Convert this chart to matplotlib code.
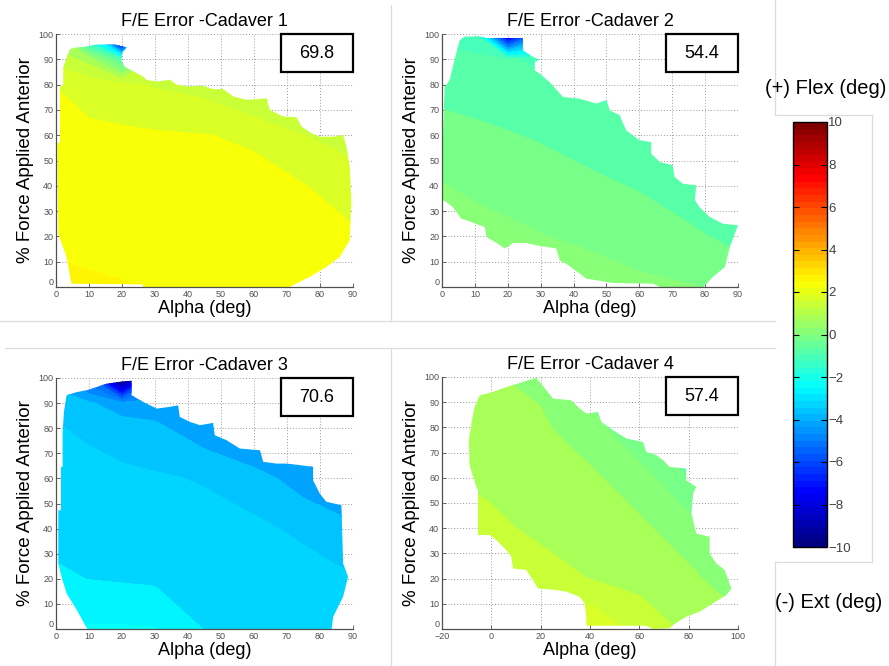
import numpy as np
import matplotlib
matplotlib.use("Agg")
import matplotlib.pyplot as plt
from matplotlib import patches, colors, cm
from matplotlib.lines import Line2D

plt.rcParams['font.family'] = ['Liberation Sans', 'DejaVu Sans']

# ---- data ----
force_rows = [0, 20, 40, 60, 80, 90, 100]

# cadaver 1
alpha_c1 = [0, 10, 20, 30, 45, 60, 75, 90]
fe_c1 = [
    [2.60, 2.55, 2.52, 2.49, 2.42, 2.38, 2.33, 2.28],
    [2.42, 2.40, 2.38, 2.32, 2.28, 2.24, 2.18, 2.08],
    [2.28, 2.25, 2.23, 2.20, 2.15, 2.10, 2.02, 1.73],
    [2.14, 2.11, 2.09, 2.06, 2.01, 1.95, 1.50, 1.30],
    [1.99, 1.78, 1.63, 1.45, 1.30, 0.70, 1.00, 0.90],
    [1.33, 0.80, -1.00, 1.00, 1.00, 0.30, 0.50, 0.60],
    [0.50, -3.0, -12.0, 0.50, 0.50, 0.00, 0.00, 0.30],
]
edge_a1 = [4.7, 3.2, 0.7, 0.4, 1.2, 1.2, 2.2, 2.2, 3.2, 4.2, 5.4, 9.0, 12.3, 17.9, 21.4,
           19.9, 19.9, 20.9, 23.4, 26.4, 27.4, 30.5, 34.5, 36.5, 39.6, 44.6, 47.6, 50.7,
           53.7, 57.7, 60.7, 63.8, 64.8, 68.8, 72.9, 74.4, 77.4, 79.9, 84.0, 87.0, 88.0,
           89.0, 89.5, 89.0, 86.0, 81.9, 76.9, 71.8, 70.8, 26.4, 26.4]
edge_f1 = [1.3, 11.9, 21.0, 57.0, 57.0, 79.0, 80.0, 87.0, 90.5, 94.0, 94.5, 95.0, 95.8, 95.8, 94.7,
           92.5, 89.0, 87.0, 85.2, 83.2, 81.9, 81.2, 81.9, 80.0, 79.3, 79.5, 78.2, 78.2,
           75.3, 74.0, 74.2, 74.6, 70.0, 67.4, 67.1, 63.4, 60.8, 59.4, 59.4, 60.1, 55.5,
           47.6, 34.3, 18.5, 11.9, 7.9, 4.0, 0.7, 0.0, 0.0, 1.0]

# cadaver 2
alpha_c2 = [0, 10, 20, 30, 45, 60, 75, 90]
fe_c2 = [
    [0.40, 0.40, 0.40, 0.35, 0.30, 0.10, 0.03, -0.10],
    [0.21, 0.17, 0.11, 0.02, -0.12, -0.23, -0.39, -0.67],
    [0.02, -0.08, -0.18, -0.26, -0.40, -0.54, -0.80, -1.10],
    [-0.31, -0.40, -0.47, -0.55, -0.71, -0.96, -1.20, -1.50],
    [-0.68, -0.71, -0.79, -0.89, -1.05, -1.40, -1.60, -1.90],
    [-0.88, -0.86, -0.95, -1.10, -1.30, -1.60, -1.80, -2.00],
    [-1.10, -1.50, -9.00, -5.00, -1.50, -1.80, -2.00, -2.20],
]
edge_a2 = [0.3, 0.3, 0.3, 0.8, 2.3, 3.9, 5.4, 6.9, 11.5, 13.5, 24.6, 24.6, 27.7, 29.7, 28.2,
           28.2, 29.7, 32.7, 36.8, 41.9, 46.9, 50.0, 51.0, 54.0, 56.0, 60.1, 63.6, 63.6,
           66.2, 70.2, 70.7, 73.3, 77.3, 76.9, 78.3, 81.4, 85.4, 90.0, 87.5, 86.0, 82.4,
           80.4, 79.4, 66.2, 64.2, 52.0, 43.9, 41.9, 37.8, 35.8, 34.8, 28.7, 25.6, 21.6,
           19.1, 17.0, 13.5, 13.0, 7.4, 5.9, 3.3, 1.3]
edge_f2 = [34.3, 42.0, 60.6, 79.0, 81.7, 90.2, 97.5, 99.0, 99.0, 98.4, 98.4, 93.5, 90.9, 89.9, 88.9,
           85.6, 84.3, 81.0, 75.1, 74.4, 72.5, 73.8, 69.8, 67.9, 61.9, 58.0, 57.3, 52.7,
           49.4, 48.1, 43.5, 40.8, 40.2, 34.3, 31.6, 27.7, 25.0, 24.4, 15.8, 7.9, 4.0,
           1.3, 0.0, 0.0, 1.3, 1.6, 3.3, 5.3, 9.2, 10.5, 15.2, 16.5, 17.4, 17.4,
           15.2, 17.1, 19.8, 23.7, 26.4, 27.0, 31.6, 33.6]

# cadaver 3
alpha_c3 = [0, 10, 20, 30, 45, 60, 75, 90]
fe_c3 = [
    [-2.60, -2.45, -2.45, -2.48, -3.02, -3.08, -3.12, -3.15],
    [-2.93, -3.01, -3.05, -3.09, -3.14, -3.19, -3.30, -3.47],
    [-3.14, -3.18, -3.22, -3.26, -3.33, -3.40, -3.60, -3.88],
    [-3.31, -3.35, -3.39, -3.44, -3.54, -3.78, -4.26, -4.70],
    [-3.47, -3.58, -3.75, -3.88, -4.33, -4.80, -5.00, -5.30],
    [-3.77, -3.93, -4.30, -4.30, -4.80, -5.10, -5.30, -5.60],
    [-4.20, -5.50, -11.0, -5.50, -5.20, -5.40, -5.60, -5.90],
]
edge_a3 = [9.5, 6.3, 3.2, 1.7, 0.7, 0.7, 1.5, 1.5, 2.0, 2.0, 2.4, 3.2, 6.3, 9.3, 12.3, 15.3,
           18.9, 22.9, 22.9, 26.4, 30.5, 34.5, 37.0, 37.5, 40.6, 43.6, 47.6, 48.1, 51.7,
           55.7, 61.8, 62.8, 66.8, 69.8, 73.9, 77.9, 77.9, 79.9, 81.9, 86.5, 87.0, 88.5,
           87.0, 84.0, 83.5]
edge_f3 = [0.0, 7.6, 14.2, 20.8, 26.1, 47.3, 47.3, 64.6, 64.6, 77.9, 86.5, 93.1, 94.4, 95.1, 96.4, 97.7,
           98.4, 98.9, 93.1, 90.5, 87.8, 88.5, 89.1, 84.5, 82.5, 81.2, 82.1, 77.2, 75.2,
           71.9, 71.2, 66.6, 65.9, 65.9, 65.3, 64.6, 59.3, 54.0, 50.7, 49.3, 26.1, 20.8,
           12.9, 4.9, 0.0]

# cadaver 4
alpha_c4 = [-20, 0, 20, 40, 60, 80, 100]
fe_c4 = [
    [1.30, 1.45, 1.45, 2.00, 1.30, 0.90, 0.65],
    [1.21, 1.27, 1.16, 0.99, 0.85, 0.61, 0.22],
    [1.12, 1.08, 0.92, 0.79, 0.60, 0.22, -0.60],
    [1.03, 0.91, 0.75, 0.59, 0.23, -0.48, -1.10],
    [0.90, 0.75, 0.58, 0.21, -0.49, -1.20, -1.60],
    [0.82, 0.67, 0.48, -0.05, -0.80, -1.50, -1.80],
    [0.74, 0.58, 0.20, -0.30, -1.10, -1.80, -2.00],
]
edge_a4 = [38.5, 37.8, 35.8, 30.4, 26.4, 18.9, 16.9, 14.2, 8.8, 8.1, 6.1, 2.0, -0.7, -5.4,
           -5.4, -6.1, -8.8, -9.1, -8.1, -6.8, -4.7, 0.7, 6.1, 12.8, 18.2, 19.6, 22.3,
           25.0, 32.4, 35.8, 38.5, 43.2, 44.6, 49.3, 54.7, 61.5, 62.8, 66.9, 69.6, 72.3,
           79.0, 79.0, 83.1, 81.8, 81.1, 83.1, 88.5, 88.5, 91.2, 94.6, 97.3, 95.3, 89.9,
           84.5, 79.1, 73.6, 72.3, 65.5, 62.8, 38.5]
edge_f4 = [5.2, 10.2, 12.8, 14.8, 15.5, 16.1, 19.4, 23.4, 24.0, 28.7, 31.3, 35.3, 37.3, 37.3,
           55.1, 56.4, 65.0, 74.9, 81.5, 88.1, 92.7, 94.1, 96.0, 98.0, 99.7, 98.0, 94.7,
           91.4, 90.8, 87.5, 85.5, 86.1, 82.2, 78.9, 75.6, 74.2, 70.3, 69.0, 67.0, 64.3,
           63.7, 59.0, 56.4, 53.8, 45.8, 37.9, 36.6, 30.0, 26.0, 23.4, 16.1, 13.5, 10.2,
           6.9, 4.9, 1.6, 0.3, 0.0, 1.3, 1.3]

titles = ['F/E Error -Cadaver 1', 'F/E Error -Cadaver 2',
          'F/E Error -Cadaver 3', 'F/E Error -Cadaver 4']
box_values = ['69.8', '54.4', '70.6', '57.4']
cbar_ticks = [-10, -8, -6, -4, -2, 0, 2, 4, 6, 8, 10]

# ---- figure ----
W, H = 889, 666
fig = plt.figure(figsize=(W / 100, H / 100), dpi=100)
fig.patch.set_facecolor('white')

def px_box(l, t, r, b):
    return [l / W, 1 - b / H, (r - l) / W, (b - t) / H]

# MATLAB style jet, 64 entries
matlab_jet = colors.LinearSegmentedColormap.from_list(
    'matlab_jet',
    [(0.0, (0, 0, 0.5)), (0.125, (0, 0, 1)), (0.375, (0, 1, 1)),
     (0.625, (1, 1, 0)), (0.875, (1, 0, 0)), (1.0, (0.5, 0, 0))], N=64)
norm = colors.Normalize(vmin=-10, vmax=10)
levels = np.arange(-12, 10.01, 0.5)

panels = [
    (alpha_c1, fe_c1, edge_a1, edge_f1, px_box(56, 34, 353, 287), (0, 90), np.arange(0, 91, 10)),
    (alpha_c2, fe_c2, edge_a2, edge_f2, px_box(442, 34, 738, 287), (0, 90), np.arange(0, 91, 10)),
    (alpha_c3, fe_c3, edge_a3, edge_f3, px_box(56, 378, 353, 629), (0, 90), np.arange(0, 91, 10)),
    (alpha_c4, fe_c4, edge_a4, edge_f4, px_box(442, 377, 738, 629), (-20, 100), np.arange(-20, 101, 20)),
]

for i, (a_grid, fe, ea, ef, rect, xlim, xticks) in enumerate(panels):
    ax = fig.add_axes(rect)
    cs = ax.contourf(a_grid, force_rows, np.array(fe), levels=levels,
                     cmap=matlab_jet, norm=norm, antialiased=False)
    outline = patches.Polygon(np.column_stack([ea, ef]), closed=True,
                              facecolor='none', edgecolor='none',
                              transform=ax.transData)
    ax.add_patch(outline)
    cs.set_clip_path(outline)

    ax.set_xlim(*xlim)
    ax.set_ylim(0, 100)
    ax.set_xticks(xticks)
    ax.set_yticks(np.arange(0, 101, 10))
    ax.grid(True, linestyle=(0, (1, 2)), color='#9a9a9a', linewidth=0.7)
    ax.set_axisbelow(True)
    for s in ('top', 'right'):
        ax.spines[s].set_visible(False)
    for s in ('left', 'bottom'):
        ax.spines[s].set_color('#505050')
        ax.spines[s].set_linewidth(0.9)
    ax.tick_params(direction='in', length=3, width=0.6, colors='#505050',
                   labelsize=6.5, labelcolor='#505050', pad=2)
    # the y "0" sits just above the first x label, as in the original
    ax.get_yticklabels()[0].set_verticalalignment('bottom')

    ax.set_title(titles[i], fontsize=13, pad=6)
    ax.set_xlabel('Alpha (deg)', fontsize=13, labelpad=1)
    ax.set_ylabel('% Force Applied Anterior', fontsize=13.5, labelpad=3)

    ax.add_patch(patches.Rectangle((0.757, 0.848), 0.243, 0.152, transform=ax.transAxes,
                                   facecolor='white', edgecolor='black', linewidth=1.6,
                                   zorder=5, clip_on=False))
    ax.text(0.8785, 0.924, box_values[i], transform=ax.transAxes, fontsize=13,
            ha='center', va='center', zorder=6)

# colour bar
cax = fig.add_axes(px_box(793, 122, 827, 547))
cb = fig.colorbar(cm.ScalarMappable(norm=norm, cmap=matlab_jet), cax=cax, ticks=cbar_ticks)
cb.outline.set_linewidth(1.0)
cax.tick_params(direction='in', length=4, width=0.8, left=True, right=True,
                labelsize=9.5, labelcolor='#404040', pad=1)

fig.text(826 / W, 1 - 88 / H, '(+) Flex (deg)', fontsize=14.5, ha='center', va='center')
fig.text(829 / W, 1 - 603 / H, '(-) Ext (deg)', fontsize=14.5, ha='center', va='center')

# faint slide frame lines
frame_lines = [
    ((0, 321), (775, 321)),
    ((5, 348), (775, 348)),
    ((391, 5), (391, 321)),
    ((391, 348), (391, 666)),
    ((775, 0), (775, 115)),
    ((775, 115), (872, 115)),
    ((872, 115), (872, 562)),
    ((775, 562), (872, 562)),
    ((775, 562), (775, 666)),
]
for (x0, y0), (x1, y1) in frame_lines:
    fig.add_artist(Line2D([x0 / W, x1 / W], [1 - y0 / H, 1 - y1 / H],
                          transform=fig.transFigure, color='#dcdcdc', linewidth=0.9))

fig.savefig('out.png', dpi=100)
